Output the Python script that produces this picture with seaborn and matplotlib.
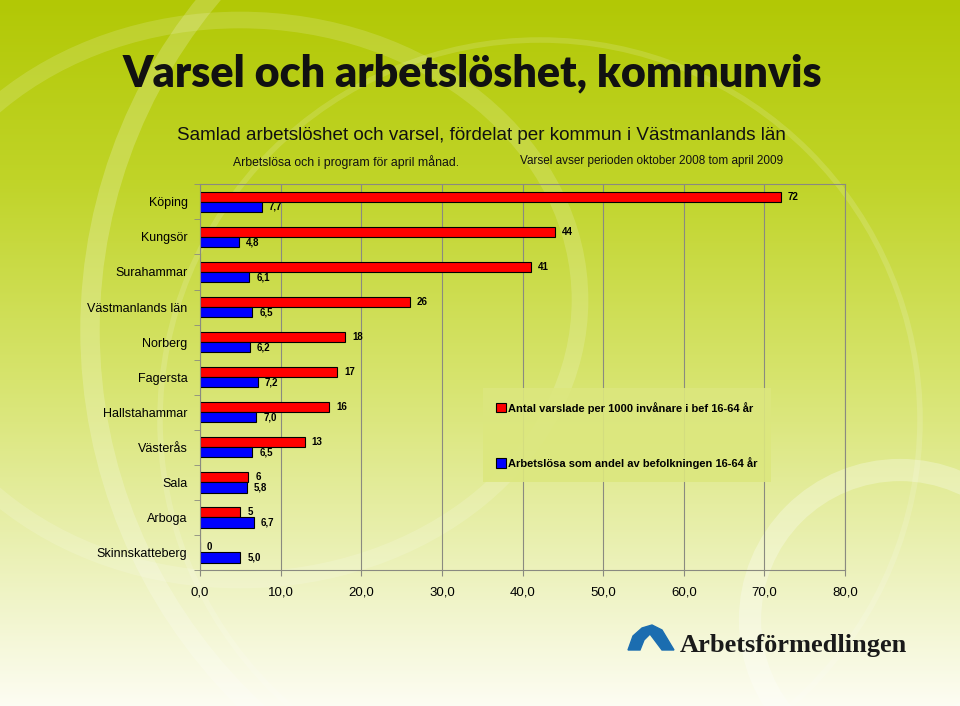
import numpy as np
import pandas as pd
import matplotlib
matplotlib.use('Agg')
import matplotlib.pyplot as plt
from matplotlib.patches import Ellipse, Polygon
import seaborn as sns

# Data
kommuner = ['Köping', 'Kungsör', 'Surahammar', 'Västmanlands län', 'Norberg', 'Fagersta',
            'Hallstahammar', 'Västerås', 'Sala', 'Arboga', 'Skinnskatteberg']
varsel = [72, 44, 41, 26, 18, 17, 16, 13, 6, 5, 0]
arbetslosa = [7.7, 4.8, 6.1, 6.5, 6.2, 7.2, 7.0, 6.5, 5.8, 6.7, 5.0]
serie_varsel = 'Antal varslade per 1000 invånare i bef 16-64 år'
serie_arb = 'Arbetslösa som andel av befolkningen 16-64 år'
x_ticks = [0, 10, 20, 30, 40, 50, 60, 70, 80]

df = pd.DataFrame({
    'kommun': kommuner * 2,
    'serie': [serie_varsel] * len(kommuner) + [serie_arb] * len(kommuner),
    'varde': varsel + arbetslosa,
})

plt.rcParams['font.family'] = ['Liberation Sans', 'DejaVu Sans']

W, H = 960, 706
fig = plt.figure(figsize=(W / 100, H / 100), dpi=100)

# bakgrund: gröngul gradient med ljusa bågar
stops_y = [0, 180, 380, 600, 706]
stops_rgb = np.array([[178, 200, 5], [192, 212, 40], [215, 228, 110],
                      [240, 244, 200], [253, 253, 243]]) / 255


def bg_color(y):
    return np.array([np.interp(y, stops_y, stops_rgb[:, i]) for i in range(3)])


grad = np.array([bg_color(y) for y in range(H)])[:, None, :]
grad = np.repeat(grad, 2, axis=1)
bg = fig.add_axes([0, 0, 1, 1], zorder=-10)
bg.imshow(grad, extent=[0, W, H, 0], aspect='auto')
bg.set_xlim(0, W)
bg.set_ylim(H, 0)
bg.axis('off')
for (cx, cy, w, h, lw, a) in [(610, 330, 1040, 1040, 14, 0.2),
                              (240, 300, 680, 560, 12, 0.15),
                              (900, 620, 300, 300, 16, 0.28),
                              (540, 420, 760, 760, 4, 0.14)]:
    bg.add_patch(Ellipse((cx, cy), w, h, fill=False, edgecolor='white', lw=lw, alpha=a))


def fy(y):
    return 1 - y / H


# rubriker
fig.text(472 / W, fy(73), 'Varsel och arbetslöshet, kommunvis', ha='center', va='center',
         fontsize=31, fontweight='heavy', family='Lato', color='#111111')
fig.text(481 / W, fy(135), 'Samlad arbetslöshet och varsel, fördelat per kommun i Västmanlands län',
         ha='center', va='center', fontsize=13.6, color='#111111')
fig.text(346 / W, fy(162), 'Arbetslösa och i program för april månad.', ha='center', va='center',
         fontsize=8.8, color='#111111')
fig.text(652 / W, fy(161), 'Varsel avser perioden oktober 2008 tom april 2009', ha='center',
         va='center', fontsize=8.5, color='#111111')

# diagrammet
left, right, top, bottom = 200, 845, 184, 570
ax = fig.add_axes([left / W, fy(bottom), (right - left) / W, (bottom - top) / H])
ax.set_facecolor('none')

sns.barplot(data=df, y='kommun', x='varde', hue='serie', hue_order=[serie_varsel, serie_arb],
            palette=['#ff0000', '#0000ff'], orient='h', width=0.58, saturation=1,
            edgecolor='black', linewidth=0.8, ax=ax)

ax.bar_label(ax.containers[0], labels=[str(v) for v in varsel], padding=5,
             fontsize=7, fontweight='bold')
ax.bar_label(ax.containers[1], labels=[f'{v:.1f}'.replace('.', ',') for v in arbetslosa],
             padding=5, fontsize=7, fontweight='bold')

ax.set_xlim(0, 80)
ax.set_ylim(len(kommuner) - 0.52, -0.51)
ax.set_xticks(x_ticks)
ax.set_xticklabels([f'{t:.1f}'.replace('.', ',') for t in x_ticks], fontsize=9.5)
ax.set_xlabel('')
ax.set_ylabel('')
ax.tick_params(axis='y', length=0, pad=9, labelsize=9)
ax.set_yticks(np.arange(-0.5, len(kommuner), 1.0), minor=True)
ax.tick_params(axis='y', which='minor', length=4, color='#8a8a80')
ax.tick_params(axis='x', length=4, color='#8a8a80', pad=8)
ax.xaxis.grid(True, color='#8a8a80', lw=0.8)
ax.set_axisbelow(True)
for s in ax.spines.values():
    s.set_color('#8a8a80')
    s.set_linewidth(0.8)

handles, labels = ax.get_legend_handles_labels()
if ax.get_legend() is not None:
    ax.get_legend().remove()
leg = ax.legend(handles, labels, loc='upper left', bbox_to_anchor=(0.43, 0.485),
                prop={'weight': 'bold', 'size': 8}, handlelength=0.9,
                handleheight=0.9, handletextpad=0.2, labelspacing=3.9, borderpad=1.2,
                frameon=True, fancybox=False)
leg.get_frame().set_facecolor(bg_color(420))
leg.get_frame().set_alpha(0.9)
leg.get_frame().set_edgecolor('none')

# logotyp
bg.add_patch(Polygon([(628, 650), (633, 636), (642, 628), (652, 625), (662, 630), (674, 650),
                      (662, 650), (650, 634), (644, 640), (640, 650)],
                     closed=True, color='#1b6db0'))
bg.text(680, 652, 'Arbetsförmedlingen', ha='left', va='baseline', fontsize=19,
        fontweight='bold', family='Liberation Serif', color='#1a1a1a')

fig.savefig('out.png', dpi=100)
